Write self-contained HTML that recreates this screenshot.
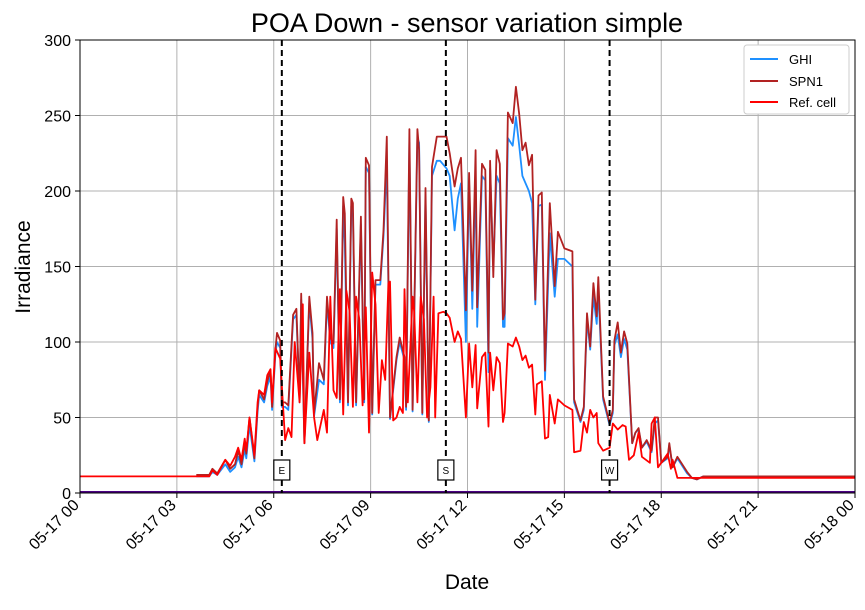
<!DOCTYPE html>
<html><head><meta charset="utf-8"><style>
body{margin:0;background:#fff;font-family:"Liberation Sans",sans-serif}
svg text{font-family:"Liberation Sans",sans-serif}
</style></head><body>
<svg id="chart" width="865" height="605" xmlns="http://www.w3.org/2000/svg">
<text x="467" y="32" font-size="27" text-anchor="middle">POA Down - sensor variation simple</text>
<g id="grid"></g>
<g id="series"></g>
<g id="axes"></g>
<text x="467" y="589" font-size="21" text-anchor="middle">Date</text>
<text transform="translate(30,267) rotate(-90)" font-size="21" text-anchor="middle">Irradiance</text>
<g>
<rect x="744" y="45" width="105" height="69" fill="#fff" stroke="#ccc" rx="3"/>
<line x1="750" y1="59" x2="778" y2="59" stroke="#1e90ff" stroke-width="2"/>
<text x="789" y="64" font-size="13">GHI</text>
<line x1="750" y1="81" x2="778" y2="81" stroke="#b22222" stroke-width="2"/>
<text x="789" y="86" font-size="13">SPN1</text>
<line x1="750" y1="102" x2="778" y2="102" stroke="#ff0000" stroke-width="2"/>
<text x="789" y="107" font-size="13">Ref. cell</text>
</g>
</svg>
<script>
const xTickLabels=["05-17 00","05-17 03","05-17 06","05-17 09","05-17 12","05-17 15","05-17 18","05-17 21","05-18 00"];
const yTicks=[0,50,100,150,200,250,300];
const markerTimes=[6.25,11.33,16.4];
const markerLabels=["E","S","W"];
const times=[3.6,4.0,4.1,4.25,4.5,4.65,4.8,4.9,5.0,5.1,5.15,5.25,5.4,5.5,5.55,5.7,5.8,5.9,5.95,6.05,6.1,6.2,6.25,6.35,6.45,6.6,6.7,6.8,6.85,6.95,7.1,7.2,7.25,7.4,7.55,7.65,7.75,7.85,7.95,8.05,8.15,8.2,8.3,8.4,8.45,8.55,8.7,8.8,8.85,8.95,9.05,9.15,9.3,9.4,9.5,9.6,9.8,9.9,10.05,10.1,10.2,10.3,10.45,10.5,10.6,10.7,10.8,10.9,11.05,11.15,11.35,11.45,11.6,11.7,11.8,11.95,12.05,12.15,12.25,12.3,12.45,12.55,12.65,12.7,12.8,12.9,13.0,13.1,13.15,13.25,13.4,13.5,13.6,13.7,13.8,13.9,14.0,14.1,14.2,14.3,14.4,14.55,14.7,14.8,15.0,15.25,15.3,15.5,15.6,15.7,15.8,15.9,16.0,16.05,16.2,16.4,16.5,16.55,16.65,16.75,16.85,16.95,17.1,17.2,17.3,17.4,17.55,17.7,17.8,17.9,18.0,18.2,18.25,18.35,18.5,18.8,18.95,19.1,19.3,24];
const spn1=[12,12,16,13,22,16,19,28,19,33,26,50,23,57,68,62,74,81,57,95,106,101,60,60,58,118,122,62,132,33,130,106,53,86,75,130,103,99,181,62,196,185,60,195,192,60,183,62,222,217,53,141,141,174,236,50,90,103,90,57,241,55,241,227,53,202,48,216,236,236,236,225,203,215,222,121,212,134,227,123,218,214,93,220,143,227,218,115,119,252,245,269,251,227,232,217,224,128,197,199,81,192,137,173,162,160,62,48,57,119,97,139,117,143,64,46,55,101,113,93,107,99,33,40,43,30,35,28,50,50,20,24,33,17,24,14,10,9,11,11,11];
const ghi=[11,11,14,12,19,14,17,24,17,29,23,45,21,54,65,60,71,77,55,92,100,96,57,57,55,115,118,60,128,33,126,102,51,75,72,126,100,96,175,60,190,165,58,190,185,58,178,60,216,212,52,138,138,170,220,49,88,100,88,55,232,54,235,232,52,196,47,210,220,220,215,210,174,195,205,100,205,122,210,110,210,207,80,215,150,210,205,110,110,235,230,249,230,210,205,200,192,125,190,191,75,172,130,155,155,150,60,47,55,115,95,130,112,135,62,45,53,98,105,90,102,95,33,40,42,30,34,27,46,48,20,23,32,17,23,13,10,9,11,11,11];
const refTimes=[0,3.5,3.6,4.0,4.1,4.25,4.5,4.65,4.8,4.9,5.0,5.1,5.15,5.25,5.4,5.5,5.55,5.7,5.8,5.9,5.95,6.05,6.2,6.35,6.45,6.55,6.65,6.8,6.9,6.95,7.1,7.25,7.35,7.55,7.65,7.75,7.85,7.95,8.05,8.15,8.25,8.35,8.45,8.55,8.65,8.75,8.85,8.95,9.05,9.15,9.25,9.35,9.45,9.55,9.6,9.7,9.8,9.9,10.0,10.05,10.15,10.3,10.35,10.45,10.55,10.65,10.75,10.85,10.95,11.0,11.1,11.25,11.35,11.45,11.6,11.7,11.8,11.95,12.05,12.15,12.25,12.3,12.45,12.55,12.65,12.7,12.8,12.9,13.0,13.1,13.15,13.25,13.4,13.5,13.6,13.7,13.8,13.9,14.0,14.1,14.15,14.3,14.4,14.5,14.55,14.7,14.8,15.0,15.25,15.3,15.5,15.6,15.7,15.8,15.9,16.0,16.05,16.2,16.4,16.5,16.65,16.8,16.9,17.0,17.15,17.3,17.4,17.65,17.7,17.8,17.9,18.2,18.3,18.35,18.5,24];
const refCell=[11,11,11,11,15,12,22,18,24,30,22,36,28,50,25,60,68,65,78,82,60,96,89,35,43,37,100,60,125,33,93,50,35,55,40,130,68,63,135,52,134,120,57,130,115,58,123,40,146,125,53,88,75,139,140,48,50,57,53,135,60,130,120,60,130,115,50,70,130,50,119,120,119,116,100,107,102,50,99,70,98,56,90,93,44,93,68,90,86,47,53,99,97,103,97,88,91,83,85,52,72,74,36,37,65,46,62,58,55,27,28,47,40,55,50,53,33,28,30,46,42,45,44,22,25,40,24,20,46,50,17,26,16,22,10,10];
const NS="http://www.w3.org/2000/svg";
const L=80,R=855,T=40,B=493;
function xScale(h){return L+(R-L)*h/24;}
function yScale(v){return B-(B-T)*v/300;}
function mk(tag,attrs,parent){const e=document.createElementNS(NS,tag);for(const k in attrs)e.setAttribute(k,attrs[k]);parent.appendChild(e);return e;}
const grid=document.getElementById('grid'),axes=document.getElementById('axes'),ser=document.getElementById('series');
xTickLabels.forEach((lab,i)=>{
  const x=xScale(i*3);
  const gl=mk('line',{x1:x,x2:x,y1:T,y2:B,stroke:'#b0b0b0','stroke-width':1},grid);
  
  
  mk('line',{x1:x,x2:x,y1:B,y2:B+5,stroke:'#000'},axes);
  const t=mk('text',{x:x,y:B+13,'font-size':16,'text-anchor':'end',transform:`rotate(-45 ${x} ${B+13})`},axes);
  t.textContent=lab;
  
  
});
yTicks.forEach(v=>{
  const y=yScale(v);
  const gl=mk('line',{x1:L,x2:R,y1:y,y2:y,stroke:'#b0b0b0','stroke-width':1},grid);
  
  
  mk('line',{x1:L-5,x2:L,y1:y,y2:y,stroke:'#000'},axes);
  const t=mk('text',{x:L-9,y:y+6,'font-size':16,'text-anchor':'end'},axes);
  t.textContent=v;
  
  
});
function path(ts,vs,color,name){
  let d='';ts.forEach((t,i)=>{d+=(i?'L':'M')+xScale(t).toFixed(1)+','+yScale(vs[i]).toFixed(1);});
  const p=mk('path',{d:d,fill:'none',stroke:color,'stroke-width':1.8,'stroke-linejoin':'round'},ser);
  
  
}
path(times,ghi,'#1e90ff','ghi-line');
path(times,spn1,'#b22222','spn1-line');
path(refTimes,refCell,'#ff0000','ref-cell-line');
const zl=mk('line',{x1:L,x2:R,y1:B-1,y2:B-1,stroke:'#4b0082','stroke-width':2},ser);


markerTimes.forEach((h,i)=>{
  const x=xScale(h);
  const dl=mk('line',{x1:x,x2:x,y1:T,y2:B,stroke:'#000','stroke-width':2,'stroke-dasharray':'6,4'},ser);
  
  
  mk('rect',{x:x-8,y:460,width:16,height:20,fill:'#fff',stroke:'#000','stroke-width':1.2},ser);
  const t=mk('text',{x:x,y:474,'font-size':10,'text-anchor':'middle'},ser);
  t.textContent=markerLabels[i];
  
  
});
mk('rect',{x:L,y:T,width:R-L,height:B-T,fill:'none',stroke:'#000','stroke-width':1},axes);
</script>
</body></html>
